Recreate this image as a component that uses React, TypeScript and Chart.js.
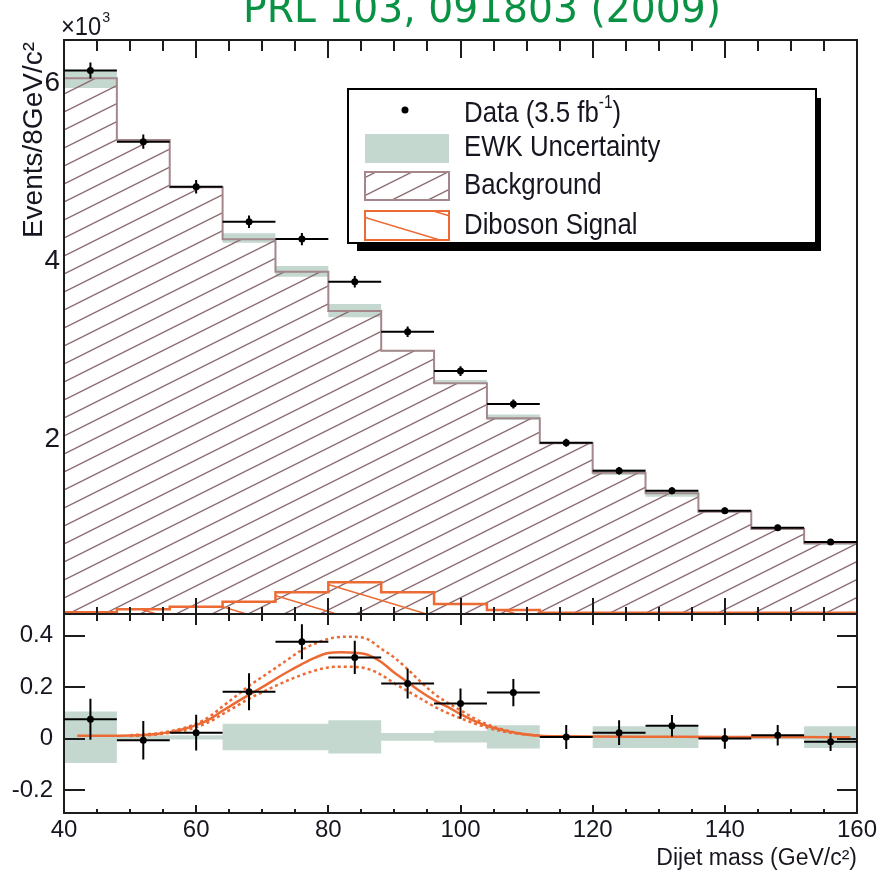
import React, { useEffect, useRef } from 'react';
import { Chart, registerables } from 'chart.js';

Chart.register(...registerables);

// ---------------- data ----------------
const binEdges = [40, 48, 56, 64, 72, 80, 88, 96, 104, 112, 120, 128, 136, 144, 152, 160];
const binCenters = [44, 52, 60, 68, 76, 84, 92, 100, 108, 116, 124, 132, 140, 148, 156];
const binHalfWidth = 4;

const dataEvents = [6107, 5307, 4801, 4408, 4213, 3734, 3172, 2730, 2360, 1925, 1610, 1385, 1161, 970, 810];
const dataErrors = [90, 80, 75, 70, 68, 65, 60, 55, 50, 45, 42, 40, 36, 33, 30];
const backgroundEvents = [6019, 5326, 4794, 4210, 3846, 3404, 2958, 2592, 2199, 1918, 1588, 1356, 1149, 955, 794];
const ewkLow = [5910, 5315, 4787, 4172, 3790, 3334, 2950, 2584, 2180, 1914, 1562, 1318, 1143, 950, 775];
const ewkHigh = [6112, 5337, 4801, 4278, 3910, 3483, 2966, 2629, 2242, 1922, 1626, 1386, 1155, 960, 820];
const dibosonEvents = [19, 53, 82, 138, 244, 357, 244, 112, 45, 15, 15, 15, 15, 15, 15];

const residual = [0.075, -0.007, 0.023, 0.182, 0.377, 0.316, 0.214, 0.136, 0.179, 0.006, 0.023, 0.05, 0.0, 0.013, -0.013];
const residualErr = [0.08, 0.075, 0.07, 0.072, 0.068, 0.065, 0.058, 0.059, 0.053, 0.047, 0.048, 0.042, 0.04, 0.04, 0.036];
const ewkResLow = [-0.095, -0.004, -0.004, -0.046, -0.046, -0.058, -0.009, -0.015, -0.039, 0, -0.037, -0.037, 0, -0.003, -0.037];
const ewkResHigh = [0.105, 0.013, 0.013, 0.058, 0.058, 0.071, 0.022, 0.03, 0.052, 0, 0.048, 0.045, 0, 0.008, 0.048];

const fitX = [42, 46, 50, 54, 56, 58, 60, 62, 64, 66, 68, 70, 72, 74, 76, 78, 80, 82, 84, 86, 88, 90, 92, 94, 96, 98, 100, 102, 104, 106, 108, 110, 112, 116, 120, 130, 140, 150, 159];
const fitCentral = [0.011, 0.011, 0.012, 0.018, 0.025, 0.036, 0.052, 0.075, 0.108, 0.14, 0.17, 0.2, 0.232, 0.262, 0.29, 0.315, 0.333, 0.336, 0.334, 0.326, 0.298, 0.256, 0.22, 0.182, 0.15, 0.124, 0.095, 0.07, 0.05, 0.035, 0.024, 0.016, 0.011, 0.009, 0.008, 0.007, 0.006, 0.006, 0.005];
const bandX = [50, 52, 54, 56, 58, 60, 62, 64, 66, 68, 70, 72, 74, 76, 78, 80, 82, 84, 86, 88, 90, 92, 94, 96, 98, 100, 102, 104, 106, 108, 110, 112];
const fitUp = [0.013, 0.016, 0.02, 0.028, 0.04, 0.058, 0.085, 0.125, 0.165, 0.205, 0.24, 0.275, 0.31, 0.345, 0.37, 0.388, 0.396, 0.396, 0.386, 0.35, 0.315, 0.27, 0.22, 0.175, 0.14, 0.11, 0.08, 0.056, 0.038, 0.025, 0.016, 0.011];
const fitDown = [0.01, 0.012, 0.016, 0.022, 0.03, 0.044, 0.065, 0.095, 0.125, 0.155, 0.18, 0.205, 0.228, 0.248, 0.265, 0.277, 0.28, 0.279, 0.271, 0.248, 0.215, 0.185, 0.155, 0.125, 0.1, 0.079, 0.06, 0.043, 0.03, 0.021, 0.015, 0.011];

const xTickLabels = [40, 60, 80, 100, 120, 140, 160];
const topYTickLabels = [2000, 4000, 6000];
const botYTickLabels = [-0.2, 0, 0.2, 0.4];

// ---------------- styles ----------------
const ORANGE = '#ec6a33';
const PINK_LINE = '#a4878b';
const HATCH_BKG = '#8a6a70';
const GREEN = '#c4d8d0';
const AXIS = '#1c1c1c';
const TEXT = '#161620';
const TITLE = '#0a9244';
const SANS = '"Liberation Sans", Arial, sans-serif';
const TITLE_FONT = '"DejaVu Sans", sans-serif';

function makeHatch(color: string, w: number, h: number, lw: number, dir: number) {
  const c = document.createElement('canvas');
  c.width = w;
  c.height = h;
  const g = c.getContext('2d')!;
  g.strokeStyle = color;
  g.lineWidth = lw;
  for (const off of [-h, 0, h]) {
    g.beginPath();
    if (dir > 0) {
      g.moveTo(-1, h + off + h / w);
      g.lineTo(w + 1, off - h / w);
    } else {
      g.moveTo(-1, off - h / w);
      g.lineTo(w + 1, h + off + h / w);
    }
    g.stroke();
  }
  return c;
}

// bin left edges carry the bin value; the closing edge repeats the last bin
const stepPoints = (vals: number[]) =>
  binEdges.map((e, i) => ({ x: e, y: vals[Math.min(i, vals.length - 1)] }));

const isMult = (v: number, m: number) => Math.abs(v / m - Math.round(v / m)) < 1e-6;

function drawCondensed(ctx: CanvasRenderingContext2D, text: string, x: number, y: number, font: string, sx: number) {
  ctx.save();
  ctx.font = font;
  ctx.translate(x, y);
  ctx.scale(sx, 1);
  ctx.fillText(text, 0, 0);
  const w = ctx.measureText(text).width * sx;
  ctx.restore();
  return w;
}

type TickSpec = {
  xStep: number; xMajor: number; yStep: number; yMajor: number;
  topMajor: number; topMinor: number; botMajor: number; botMinor: number;
  leftMajor: number; leftMinor: number; rightMajor: number; rightMinor: number;
};

function collectTicks(scale: any, step: number) {
  const out: number[] = [];
  for (const t of scale.ticks) {
    const v = t.value;
    if (v <= scale.min + 1e-9 || v >= scale.max - 1e-9) continue;
    if (!isMult(v, step)) continue;
    out.push(v);
  }
  return out;
}

function framePlugin(id: string, spec: TickSpec) {
  return {
    id,
    afterDatasetsDraw(chart: any) {
      const { ctx, chartArea: a } = chart;
      const xs = chart.scales.x;
      const ys = chart.scales.y;
      ctx.save();
      ctx.strokeStyle = AXIS;
      ctx.lineWidth = 2;
      ctx.beginPath();
      for (const v of collectTicks(xs, spec.xStep)) {
        const major = isMult(v, spec.xMajor);
        const px = Math.round(xs.getPixelForValue(v));
        const lt = major ? spec.topMajor : spec.topMinor;
        const lb = major ? spec.botMajor : spec.botMinor;
        if (lt) { ctx.moveTo(px, a.top); ctx.lineTo(px, a.top + lt); }
        if (lb) { ctx.moveTo(px, a.bottom); ctx.lineTo(px, a.bottom - lb); }
      }
      for (const v of collectTicks(ys, spec.yStep)) {
        const major = isMult(v, spec.yMajor);
        const py = Math.round(ys.getPixelForValue(v));
        const ll = major ? spec.leftMajor : spec.leftMinor;
        const lr = major ? spec.rightMajor : spec.rightMinor;
        if (ll) { ctx.moveTo(a.left, py); ctx.lineTo(a.left + ll, py); }
        if (lr) { ctx.moveTo(a.right, py); ctx.lineTo(a.right - lr, py); }
      }
      ctx.stroke();
      ctx.strokeRect(a.left, a.top, a.right - a.left, a.bottom - a.top);
      ctx.restore();
    },
  };
}

function errorBarPlugin(id: string, values: number[], errors: number[]) {
  return {
    id,
    afterDatasetsDraw(chart: any) {
      const { ctx } = chart;
      const xs = chart.scales.x;
      const ys = chart.scales.y;
      ctx.save();
      ctx.strokeStyle = '#000';
      ctx.lineWidth = 2;
      ctx.beginPath();
      binCenters.forEach((c, i) => {
        const x0 = xs.getPixelForValue(c - binHalfWidth);
        const x1 = xs.getPixelForValue(c + binHalfWidth);
        const xc = xs.getPixelForValue(c);
        const y = ys.getPixelForValue(values[i]);
        const y0 = ys.getPixelForValue(values[i] - errors[i]);
        const y1 = ys.getPixelForValue(values[i] + errors[i]);
        ctx.moveTo(x0, y);
        ctx.lineTo(x1, y);
        ctx.moveTo(xc, y0);
        ctx.lineTo(xc, y1);
      });
      ctx.stroke();
      ctx.restore();
    },
  };
}

function fixAxisWidth(w: number) {
  return (scale: any) => {
    scale.width = w;
    scale.paddingTop = 0;
    scale.paddingBottom = 0;
  };
}
function fixAxisHeight(h: number) {
  return (scale: any) => {
    scale.height = h;
    scale.paddingLeft = 0;
    scale.paddingRight = 0;
  };
}

export default function App() {
  const topRef = useRef<HTMLCanvasElement>(null);
  const botRef = useRef<HTMLCanvasElement>(null);

  useEffect(() => {
    const topCanvas = topRef.current!;
    const botCanvas = botRef.current!;
    const tctx = topCanvas.getContext('2d')!;
    const bkgPattern = tctx.createPattern(makeHatch(HATCH_BKG, 36, 18, 1.4, 1), 'repeat')!;
    const sigPattern = tctx.createPattern(makeHatch(ORANGE, 90, 27, 1.6, -1), 'repeat')!;

    const textPlugin = {
      id: 'topText',
      afterDraw(chart: any) {
        const { ctx } = chart;
        const ys = chart.scales.y;
        ctx.save();
        // y tick labels (x10^3)
        ctx.fillStyle = TEXT;
        ctx.font = `28px ${SANS}`;
        ctx.textAlign = 'right';
        ctx.textBaseline = 'middle';
        for (const v of topYTickLabels) {
          ctx.fillText(String(v / 1000), chart.chartArea.left - 4, ys.getPixelForValue(v) + 3);
        }
        // title
        ctx.fillStyle = TITLE;
        ctx.font = `40px ${TITLE_FONT}`;
        ctx.textAlign = 'center';
        ctx.textBaseline = 'alphabetic';
        ctx.fillText('PRL 103, 091803 (2009)', 482, 22, 478);
        // x10^3
        ctx.fillStyle = TEXT;
        ctx.textAlign = 'left';
        const w = drawCondensed(ctx, '×10', 61, 35, `25px ${SANS}`, 0.95);
        drawCondensed(ctx, '3', 61 + w + 1, 22, `15px ${SANS}`, 0.95);
        // y title
        ctx.save();
        ctx.translate(34, 42);
        ctx.rotate(-Math.PI / 2);
        ctx.textAlign = 'right';
        ctx.textBaseline = 'middle';
        ctx.font = `28px ${SANS}`;
        ctx.fillText('Events/8GeV/c²', 0, 0);
        ctx.restore();
        // legend
        ctx.fillStyle = '#000';
        ctx.fillRect(357, 243, 464, 8);
        ctx.fillRect(816, 98, 5, 150);
        ctx.fillStyle = '#fff';
        ctx.fillRect(348, 89, 468, 154);
        ctx.strokeStyle = '#000';
        ctx.lineWidth = 2;
        ctx.strokeRect(348, 89, 468, 154);
        ctx.fillStyle = '#000';
        ctx.beginPath();
        ctx.arc(405, 110, 3.5, 0, Math.PI * 2);
        ctx.fill();
        ctx.fillStyle = GREEN;
        ctx.fillRect(365, 134, 84, 29);
        ctx.fillStyle = bkgPattern;
        ctx.fillRect(365, 172, 84, 28);
        ctx.strokeStyle = PINK_LINE;
        ctx.lineWidth = 2;
        ctx.strokeRect(365, 172, 84, 28);
        ctx.fillStyle = sigPattern;
        ctx.fillRect(365, 211, 84, 29);
        ctx.strokeStyle = ORANGE;
        ctx.strokeRect(365, 211, 84, 29);
        ctx.fillStyle = TEXT;
        ctx.textAlign = 'left';
        ctx.textBaseline = 'alphabetic';
        const f = `30px ${SANS}`;
        const sx = 0.86;
        let dx = drawCondensed(ctx, 'Data (3.5 fb', 464, 122, f, sx);
        dx += drawCondensed(ctx, '-1', 464 + dx, 108, `18px ${SANS}`, sx);
        drawCondensed(ctx, ')', 464 + dx, 122, f, sx);
        drawCondensed(ctx, 'EWK Uncertainty', 464, 156, f, sx);
        drawCondensed(ctx, 'Background', 464, 194, f, sx);
        drawCondensed(ctx, 'Diboson Signal', 464, 234, f, sx);
        ctx.restore();
      },
    };

    const topChart = new Chart(topCanvas, {
      type: 'line',
      data: {
        datasets: [
          {
            label: 'Data',
            data: binCenters.map((c, i) => ({ x: c, y: dataEvents[i] })),
            showLine: false,
            pointRadius: 3.5,
            pointBackgroundColor: '#000',
            pointBorderWidth: 0,
            order: 1,
          },
          {
            label: 'Diboson Signal',
            data: stepPoints(dibosonEvents),
            stepped: 'before',
            borderColor: ORANGE,
            borderWidth: 2.5,
            pointRadius: 0,
            fill: 'origin',
            backgroundColor: sigPattern,
            order: 2,
          },
          {
            label: 'Background',
            data: stepPoints(backgroundEvents),
            stepped: 'before',
            borderColor: PINK_LINE,
            borderWidth: 2,
            pointRadius: 0,
            fill: 'origin',
            backgroundColor: bkgPattern,
            order: 3,
          },
          {
            label: 'EWK low',
            data: stepPoints(ewkLow),
            stepped: 'before',
            borderWidth: 0,
            pointRadius: 0,
            fill: false,
            order: 5,
          },
          {
            label: 'EWK Uncertainty',
            data: stepPoints(ewkHigh),
            stepped: 'before',
            borderWidth: 0,
            pointRadius: 0,
            fill: '-1',
            backgroundColor: GREEN,
            order: 4,
          },
        ],
      } as any,
      options: {
        responsive: false,
        animation: false,
        events: [],
        layout: { padding: { left: 4, right: 34, top: 40, bottom: 6 } },
        plugins: { legend: { display: false }, tooltip: { enabled: false } },
        scales: {
          x: {
            type: 'linear',
            min: 40,
            max: 160,
            grid: { display: false, drawTicks: false },
            border: { display: false },
            ticks: { display: false, stepSize: 5, includeBounds: false, autoSkip: false, maxTicksLimit: 100 },
            afterFit: fixAxisHeight(0),
          },
          y: {
            type: 'linear',
            min: 0,
            max: 6450,
            grid: { display: false, drawTicks: false },
            border: { display: false },
            ticks: { display: false, stepSize: 500, includeBounds: false, autoSkip: false, maxTicksLimit: 100 },
            afterFit: fixAxisWidth(60),
          },
        },
      } as any,
      plugins: [
        framePlugin('topFrame', {
          xStep: 5, xMajor: 20, yStep: 500, yMajor: 2000,
          topMajor: 18, topMinor: 11, botMajor: 16, botMinor: 7,
          leftMajor: 24, leftMinor: 13, rightMajor: 26, rightMinor: 13,
        }),
        errorBarPlugin('topErr', dataEvents, dataErrors),
        textPlugin,
      ],
    });

    const botChart = new Chart(botCanvas, {
      type: 'line',
      data: {
        datasets: [
          {
            label: 'Residual',
            data: binCenters.map((c, i) => ({ x: c, y: residual[i] })),
            showLine: false,
            pointRadius: 3.5,
            pointBackgroundColor: '#000',
            pointBorderWidth: 0,
            order: 1,
          },
          {
            label: 'Fit',
            data: fitX.map((x, i) => ({ x, y: fitCentral[i] })),
            borderColor: ORANGE,
            borderWidth: 2.5,
            pointRadius: 0,
            cubicInterpolationMode: 'monotone',
            fill: false,
            order: 2,
          },
          {
            label: 'Fit up',
            data: bandX.map((x, i) => ({ x, y: fitUp[i] })),
            borderColor: ORANGE,
            borderWidth: 2.5,
            borderDash: [3, 3],
            pointRadius: 0,
            cubicInterpolationMode: 'monotone',
            fill: false,
            order: 3,
          },
          {
            label: 'Fit down',
            data: bandX.map((x, i) => ({ x, y: fitDown[i] })),
            borderColor: ORANGE,
            borderWidth: 2.5,
            borderDash: [3, 3],
            pointRadius: 0,
            cubicInterpolationMode: 'monotone',
            fill: false,
            order: 3,
          },
          {
            label: 'EWK low',
            data: stepPoints(ewkResLow),
            stepped: 'before',
            borderWidth: 0,
            pointRadius: 0,
            fill: false,
            order: 5,
          },
          {
            label: 'EWK high',
            data: stepPoints(ewkResHigh),
            stepped: 'before',
            borderWidth: 0,
            pointRadius: 0,
            fill: '-1',
            backgroundColor: GREEN,
            order: 4,
          },
        ],
      } as any,
      options: {
        responsive: false,
        animation: false,
        events: [],
        layout: { padding: { left: 4, right: 34, top: 14, bottom: 0 } },
        plugins: { legend: { display: false }, tooltip: { enabled: false } },
        scales: {
          x: {
            type: 'linear',
            min: 40,
            max: 160,
            grid: { display: false, drawTicks: false },
            border: { display: false },
            ticks: {
              stepSize: 5,
              padding: 3,
              includeBounds: false,
              maxTicksLimit: 100,
              color: TEXT,
              maxRotation: 0,
              autoSkip: false,
              font: { family: SANS, size: 24 },
              callback: (v: any) => (xTickLabels.includes(Math.round(Number(v))) && isMult(Number(v), 20) ? String(Math.round(Number(v))) : ''),
            },
            title: {
              display: true,
              text: 'Dijet mass (GeV/c²)',
              align: 'end',
              color: TEXT,
              font: { family: SANS, size: 23 },
              padding: { top: 0, bottom: 6 },
            },
            afterFit: fixAxisHeight(65),
          },
          y: {
            type: 'linear',
            min: -0.29,
            max: 0.485,
            grid: { display: false, drawTicks: false },
            border: { display: false },
            ticks: {
              stepSize: 0.2,
              padding: 11,
              includeBounds: false,
              color: TEXT,
              autoSkip: false,
              font: { family: SANS, size: 24 },
              callback: (v: any) => {
                const n = Number(v);
                const hit = botYTickLabels.find((t) => Math.abs(t - n) < 1e-6);
                if (hit === undefined) return '';
                return hit === 0 ? '0' : hit.toFixed(1);
              },
            },
            afterFit: fixAxisWidth(60),
          },
        },
      } as any,
      plugins: [
        framePlugin('botFrame', {
          xStep: 5, xMajor: 20, yStep: 0.2, yMajor: 0.2,
          topMajor: 11, topMinor: 7, botMajor: 8, botMinor: 4,
          leftMajor: 21, leftMinor: 0, rightMajor: 20, rightMinor: 0,
        }),
        errorBarPlugin('botErr', residual, residualErr),
      ],
    });

    return () => {
      topChart.destroy();
      botChart.destroy();
    };
  }, []);

  return (
    <div style={{ position: 'absolute', left: 0, top: 0, width: 891, height: 878, background: '#fff', overflow: 'hidden' }}>
      <canvas ref={topRef} width={891} height={620} style={{ position: 'absolute', left: 0, top: 0 }} />
      <canvas ref={botRef} width={891} height={278} style={{ position: 'absolute', left: 0, top: 600 }} />
    </div>
  );
}
